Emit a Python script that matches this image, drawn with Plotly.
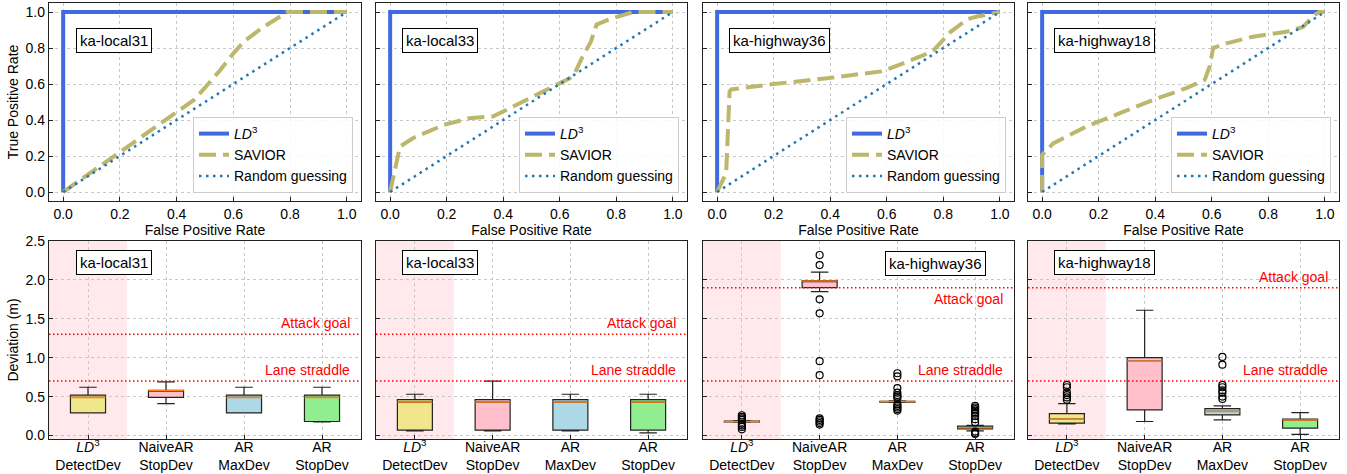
import plotly.graph_objects as go

W, H = 1347, 474
FONT = "Liberation Sans, Arial, sans-serif"

# ---------------- data ----------------
panel_names = ["ka-local31", "ka-local33", "ka-highway36", "ka-highway18"]

ld3_fpr = [0.0, 0.0, 1.0]
ld3_tpr = [0.0, 1.0, 1.0]
random_fpr = [0.0, 1.0]
random_tpr = [0.0, 1.0]

savior_fpr_local31 = [0.0, 0.1, 0.2, 0.3, 0.4, 0.46, 0.5, 0.55, 0.6, 0.64, 0.7, 0.76, 0.79, 1.0]
savior_tpr_local31 = [0.0, 0.11, 0.22, 0.33, 0.44, 0.51, 0.58, 0.67, 0.77, 0.84, 0.91, 0.97, 1.0, 1.0]

savior_fpr_local33 = [0.0, 0.035, 0.082, 0.19, 0.28, 0.365, 0.435, 0.54, 0.635, 0.653, 0.68, 0.71, 0.73, 0.776, 0.86, 1.0]
savior_tpr_local33 = [0.0, 0.253, 0.30, 0.373, 0.41, 0.42, 0.475, 0.558, 0.632, 0.66, 0.75, 0.835, 0.93, 0.96, 1.0, 1.0]

savior_fpr_highway36 = [0.0, 0.032, 0.044, 0.05, 0.2, 0.38, 0.58, 0.614, 0.73, 0.767, 0.826, 0.885, 0.92, 1.0]
savior_tpr_highway36 = [0.0, 0.105, 0.558, 0.57, 0.60, 0.63, 0.67, 0.688, 0.76, 0.79, 0.89, 0.96, 0.975, 1.0]

savior_fpr_highway18 = [0.0, 0.0, 0.039, 0.157, 0.275, 0.393, 0.51, 0.575, 0.593, 0.605, 0.652, 0.746, 0.864, 0.923, 0.96, 0.98, 1.0]
savior_tpr_highway18 = [0.0, 0.207, 0.27, 0.364, 0.438, 0.512, 0.577, 0.623, 0.70, 0.80, 0.826, 0.863, 0.89, 0.917, 0.98, 1.0, 1.0]

savior_fpr = [savior_fpr_local31, savior_fpr_local33, savior_fpr_highway36, savior_fpr_highway18]
savior_tpr = [savior_tpr_local31, savior_tpr_local33, savior_tpr_highway36, savior_tpr_highway18]

box_labels = ["<i>LD</i><sup>3</sup><br>DetectDev", "NaiveAR<br>StopDev", "AR<br>MaxDev", "AR<br>StopDev"]
box_positions = [1, 2, 3, 4]
box_colors = ["#F0E68C", "#FFC0CB", "#ADD8E6", "#90EE90"]

q1_local31 = [0.29, 0.49, 0.29, 0.18]
med_local31 = [0.49, 0.575, 0.49, 0.49]
q3_local31 = [0.52, 0.58, 0.52, 0.52]
lo_local31 = [0.29, 0.41, 0.29, 0.175]
hi_local31 = [0.62, 0.69, 0.62, 0.62]
out_local31 = [[], [], [], []]

q1_local33 = [0.07, 0.07, 0.07, 0.07]
med_local33 = [0.43, 0.43, 0.43, 0.43]
q3_local33 = [0.46, 0.46, 0.46, 0.46]
lo_local33 = [0.06, 0.06, 0.06, 0.035]
hi_local33 = [0.53, 0.70, 0.53, 0.53]
out_local33 = [[], [], [], []]

q1_highway36 = [0.175, 1.90, 0.43, 0.085]
med_highway36 = [0.18, 1.985, 0.436, 0.10]
q3_highway36 = [0.185, 1.99, 0.44, 0.12]
lo_highway36 = [0.17, 1.85, 0.425, 0.06]
hi_highway36 = [0.19, 2.10, 0.445, 0.13]
out_highway36 = [
    [0.26, 0.24, 0.22, 0.20, 0.15, 0.13, 0.11, 0.08],
    [2.32, 2.19, 1.75, 1.57, 0.955, 0.775, 0.22, 0.20, 0.18, 0.16, 0.14],
    [0.80, 0.76, 0.61, 0.55, 0.52, 0.50, 0.48, 0.40, 0.38, 0.36, 0.34, 0.32],
    [0.38, 0.36, 0.34, 0.32, 0.30, 0.28, 0.25, 0.21, 0.17, 0.05, 0.03, 0.02],
]

q1_highway18 = [0.16, 0.33, 0.265, 0.095]
med_highway18 = [0.21, 0.955, 0.31, 0.20]
q3_highway18 = [0.28, 1.0, 0.345, 0.21]
lo_highway18 = [0.15, 0.18, 0.20, 0.015]
hi_highway18 = [0.41, 1.61, 0.38, 0.295]
out_highway18 = [
    [0.65, 0.62, 0.55, 0.52, 0.49, 0.46],
    [],
    [1.01, 0.91, 0.65, 0.62, 0.58, 0.55, 0.50, 0.47],
    [],
]

q1_all = [q1_local31, q1_local33, q1_highway36, q1_highway18]
med_all = [med_local31, med_local33, med_highway36, med_highway18]
q3_all = [q3_local31, q3_local33, q3_highway36, q3_highway18]
lo_all = [lo_local31, lo_local33, lo_highway36, lo_highway18]
hi_all = [hi_local31, hi_local33, hi_highway36, hi_highway18]
out_all = [out_local31, out_local33, out_highway36, out_highway18]

attack_goal = [1.3, 1.3, 1.9, 1.9]
lane_straddle = [0.7, 0.7, 0.7, 0.7]
attack_label_side = ["above", "above", "below", "above"]

roc_ticks = [0.0, 0.2, 0.4, 0.6, 0.8, 1.0]
dev_ticks = [0.0, 0.5, 1.0, 1.5, 2.0, 2.5]

# ---------------- layout geometry (pixels) ----------------
col_px = [(49, 361), (376, 687), (703, 1014), (1028, 1339)]
top_px = (3, 201)
bot_px = (241, 439)


def xdom(c):
    return [col_px[c][0] / W, col_px[c][1] / W]


def ydom(r):
    a, b = r
    return [(H - b) / H, (H - a) / H]


BOX_W = 0.45

fig = go.Figure()
layout = {}
annotations = []
shapes = []

axis_common = dict(
    showline=True, linecolor="#222222", linewidth=1.2, mirror=True,
    ticks="inside", ticklen=4, tickwidth=1, tickcolor="#222222",
    showgrid=True, gridcolor="#c8c8c8", gridwidth=1, griddash="dot",
    zeroline=False, automargin=False,
    tickfont=dict(family=FONT, size=14, color="black"),
)
title_font = dict(family=FONT, size=14, color="black")

for c in range(4):
    # ---------- top ROC panel ----------
    xi = c + 1
    xn = "x" if xi == 1 else f"x{xi}"
    yn = "y" if xi == 1 else f"y{xi}"
    leg = "legend" if c == 0 else f"legend{c + 1}"

    fig.add_trace(go.Scatter(
        x=ld3_fpr, y=ld3_tpr, mode="lines", name="<i>LD</i><sup>3</sup>",
        line=dict(color="#4169E1", width=4), xaxis=xn, yaxis=yn, legend=leg,
    ))
    fig.add_trace(go.Scatter(
        x=savior_fpr[c], y=savior_tpr[c], mode="lines", name="SAVIOR",
        line=dict(color="#BDB76B", width=4, dash="17px,7px"), xaxis=xn, yaxis=yn, legend=leg,
    ))
    fig.add_trace(go.Scatter(
        x=random_fpr, y=random_tpr, mode="lines", name="Random guessing",
        line=dict(color="#1f77b4", width=2.5, dash="2.5px,4.5px"), xaxis=xn, yaxis=yn, legend=leg,
    ))

    layout[f"xaxis{xi}"] = dict(
        axis_common, domain=xdom(c), anchor=yn, range=[-0.05, 1.05],
        tickvals=roc_ticks, tickformat=".1f",
        title=dict(text="False Positive Rate", font=title_font, standoff=1),
    )
    ytop = dict(
        axis_common, domain=ydom(top_px), anchor=xn, range=[-0.05, 1.05],
        tickvals=roc_ticks, tickformat=".1f", showticklabels=(c == 0),
    )
    if c == 0:
        ytop["title"] = dict(text="True Positive Rate", font=title_font, standoff=3)
    layout[f"yaxis{xi}"] = ytop

    right_px = col_px[c][1] - 8
    layout[leg] = dict(
        x=right_px / W, y=(H - (top_px[1] - 8)) / H, xanchor="right", yanchor="bottom",
        bgcolor="rgba(255,255,255,0.85)", bordercolor="#cccccc", borderwidth=1,
        font=dict(family=FONT, size=14, color="black"), tracegroupgap=0, itemwidth=30,
    )

    annotations.append(dict(
        text=panel_names[c], xref=f"{xn} domain", yref=f"{yn} domain",
        x=0.085, y=0.81, xanchor="left", yanchor="middle", showarrow=False,
        font=dict(family=FONT, size=15, color="black"),
        bgcolor="white", bordercolor="black", borderwidth=1, borderpad=3,
    ))

    # ---------- bottom box panel ----------
    bi = c + 5
    bxn, byn = f"x{bi}", f"y{bi}"

    shapes.append(dict(
        type="rect", xref=bxn, yref=f"{byn} domain", x0=0.5, x1=1.5, y0=0, y1=1,
        fillcolor="rgba(255,182,193,0.3)", line=dict(width=0), layer="below",
    ))
    for val in (attack_goal[c], lane_straddle[c]):
        shapes.append(dict(
            type="line", xref=f"{bxn} domain", yref=byn, x0=0, x1=1, y0=val, y1=val,
            line=dict(color="red", width=1.5, dash="1.5px,2.5px"),
        ))

    for k in range(4):
        fig.add_trace(go.Box(
            x=[box_positions[k]], q1=[q1_all[c][k]], median=[med_all[c][k]], q3=[q3_all[c][k]],
            lowerfence=[lo_all[c][k]], upperfence=[hi_all[c][k]],
            fillcolor=box_colors[k], line=dict(color="#222222", width=1.2),
            width=BOX_W, whiskerwidth=0.5, boxpoints=False, showlegend=False,
            xaxis=bxn, yaxis=byn, hoverinfo="skip",
        ))
        fig.add_trace(go.Scatter(
            x=[box_positions[k] - BOX_W / 2, box_positions[k] + BOX_W / 2],
            y=[med_all[c][k], med_all[c][k]], mode="lines",
            line=dict(color="#ff7f0e", width=1.5), showlegend=False,
            xaxis=bxn, yaxis=byn, hoverinfo="skip",
        ))
        if out_all[c][k]:
            fig.add_trace(go.Scatter(
                x=[box_positions[k]] * len(out_all[c][k]), y=out_all[c][k], mode="markers",
                marker=dict(symbol="circle-open", size=7, color="black", line=dict(width=1.2)),
                showlegend=False, xaxis=bxn, yaxis=byn, hoverinfo="skip",
            ))

    layout[f"xaxis{bi}"] = dict(
        axis_common, domain=xdom(c), anchor=byn, range=[0.5, 4.5],
        tickvals=box_positions, ticktext=box_labels, ticklabelstandoff=-5,
        tickfont=dict(family=FONT, size=14, color="black"),
    )
    ybot = dict(
        axis_common, domain=ydom(bot_px), anchor=bxn, range=[-0.045, 2.5],
        tickvals=dev_ticks, tickformat=".1f", showticklabels=(c == 0),
    )
    if c == 0:
        ybot["title"] = dict(text="Deviation (m)", font=title_font, standoff=3)
    layout[f"yaxis{bi}"] = ybot

    if c == 2:
        annotations.append(dict(
            text=panel_names[c], xref=f"{bxn} domain", yref=f"{byn} domain",
            x=0.91, y=0.885, xanchor="right", yanchor="middle", showarrow=False,
            font=dict(family=FONT, size=15, color="black"),
            bgcolor="white", bordercolor="black", borderwidth=1, borderpad=3,
        ))
    else:
        annotations.append(dict(
            text=panel_names[c], xref=f"{bxn} domain", yref=f"{byn} domain",
            x=0.085, y=0.89, xanchor="left", yanchor="middle", showarrow=False,
            font=dict(family=FONT, size=15, color="black"),
            bgcolor="white", bordercolor="black", borderwidth=1, borderpad=3,
        ))

    side = attack_label_side[c]
    annotations.append(dict(
        text="Attack goal", xref=f"{bxn} domain", yref=byn, x=0.972, y=attack_goal[c],
        xanchor="right", yanchor="bottom" if side == "above" else "top",
        yshift=1 if side == "above" else -1, showarrow=False,
        font=dict(family=FONT, size=14, color="red"),
    ))
    annotations.append(dict(
        text="Lane straddle", xref=f"{bxn} domain", yref=byn, x=0.972, y=lane_straddle[c],
        xanchor="right", yanchor="bottom", yshift=1, showarrow=False,
        font=dict(family=FONT, size=14, color="red"),
    ))

layout["xaxis"] = layout.pop("xaxis1")
layout["yaxis"] = layout.pop("yaxis1")

fig.update_layout(layout)
fig.update_layout(
    width=W, height=H, margin=dict(l=0, r=0, t=0, b=0),
    paper_bgcolor="white", plot_bgcolor="white",
    font=dict(family=FONT, size=14, color="black"),
    annotations=annotations, shapes=shapes, showlegend=True,
)

fig.write_html(
    "out.html",
    config={"displayModeBar": False, "staticPlot": True},
    post_script="document.body.style.margin='0';document.body.style.padding='0';document.body.style.overflow='hidden';",
)
